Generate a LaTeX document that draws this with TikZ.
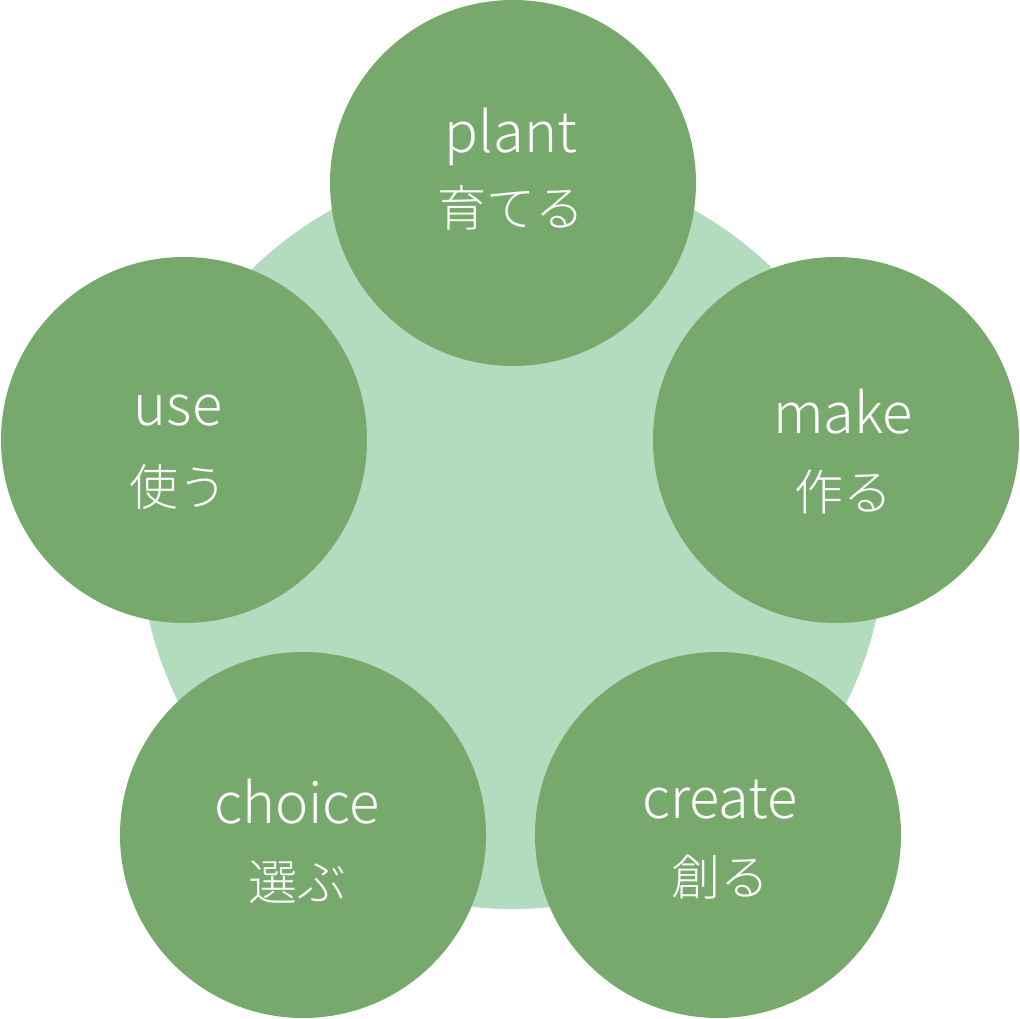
\documentclass[tikz,border=0pt]{standalone}
\usepackage{fontspec}
\setmainfont{Noto Sans CJK JP}[UprightFont=* Light]
\usepackage{tikz}
\definecolor{leafdark}{HTML}{77A96C}
\definecolor{leaflight}{HTML}{B3DBBE}
\tikzset{
  petal/.style={circle,fill=leafdark,minimum size=366pt,inner sep=0pt},
  enword/.style={anchor=base,text=white,inner sep=0pt,font=\fontsize{56}{60}\selectfont},
  jaword/.style={anchor=base,text=white,inner sep=0pt,font=\fontsize{49}{52}\selectfont}
}

\begin{document}
\begin{tikzpicture}[x=1pt,y=-1pt]
      \useasboundingbox (0,0) rectangle (1020,1019);
      \node [circle,fill=leaflight,minimum size=746pt,inner sep=0pt] (core) at (512.5,536) {};
      \node [petal] (plant) at (513,183) {};
      \node [petal] (make) at (836,440) {};
      \node [petal] (create) at (718,835) {};
      \node [petal] (choice) at (303,835) {};
      \node [petal] (use) at (184,440) {};
      \node [enword] (plant-en) at (511,153) {plant};
      \node [jaword] (plant-ja) at (511,227) {育てる};
      \node [enword] (make-en) at (843,433) {make};
      \node [jaword] (make-ja) at (843,510) {作る};
      \node [enword] (create-en) at (720,818) {create};
      \node [jaword] (create-ja) at (720,895) {創る};
      \node [enword] (choice-en) at (297,823) {choice};
      \node [jaword] (choice-ja) at (297,900) {選ぶ};
      \node [enword] (use-en) at (178,425) {use};
      \node [jaword] (use-ja) at (178,505) {使う};
    \end{tikzpicture}
\end{document}
